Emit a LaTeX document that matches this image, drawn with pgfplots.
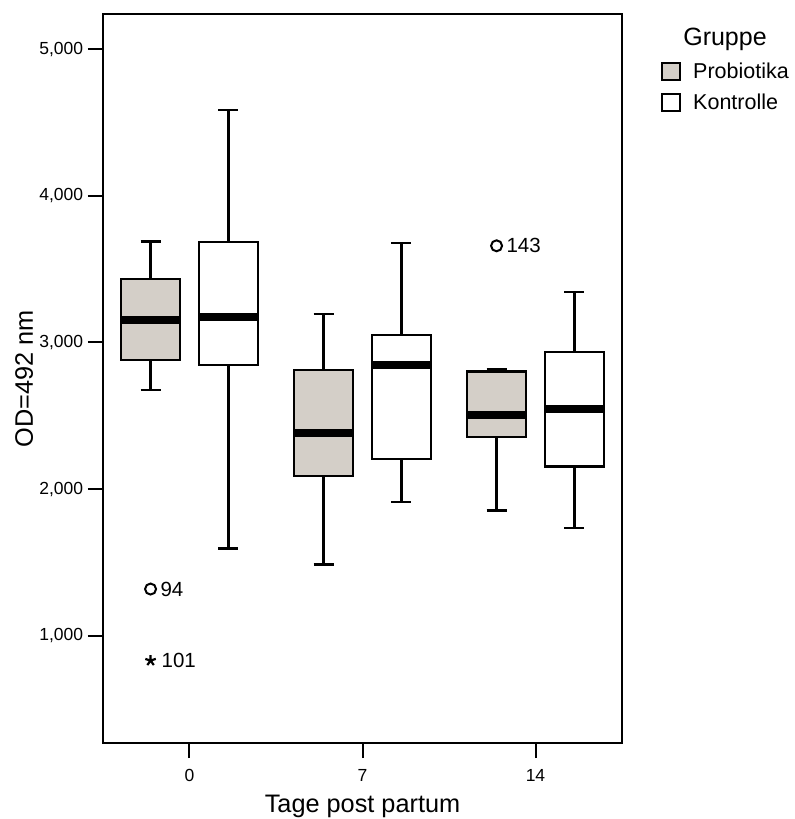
\documentclass[border=0pt]{standalone}
\usepackage{pgfplots}
\pgfplotsset{compat=1.18}
\usepackage{fontspec}
\setmainfont{Liberation Sans}
\definecolor{probgray}{RGB}{212,207,200}

\newcommand{\ticksize}{\fontsize{17.5bp}{21bp}\selectfont}
\newcommand{\labelsize}{\fontsize{25.3bp}{30bp}\selectfont}
\newcommand{\legsize}{\fontsize{21.5bp}{26bp}\selectfont}
\newcommand{\idsize}{\fontsize{20.5bp}{24bp}\selectfont}

\begin{document}
\begin{tikzpicture}
\begin{axis}[
  at={(0,0)}, anchor=south west,
  scale only axis, width=519bp, height=729bp,
  xmin=-0.5, xmax=2.5, ymin=268, ymax=5240,
  xtick={0,1,2}, xticklabels={0,7,14},
  ytick={1000,2000,3000,4000,5000},
  tick pos=left, tick align=outside, major tick length=15bp,
  axis line style={line width=2.5bp},
  major tick style={line width=2bp, black},
  /pgf/number format/.cd, fixed, 1000 sep={,}, assume math mode=true, /pgfplots/.cd,
  ticklabel style={font=\ticksize},
  xticklabel style={anchor=base, yshift=-23bp},
  yticklabel style={anchor=east, inner sep=0pt, xshift=-4.7bp},
  xlabel={Tage post partum},
  xlabel style={at={(axis description cs:0.5,-0.096)}, anchor=base, font=\labelsize},
  ylabel={OD=492 nm},
  ylabel style={at={(axis description cs:-0.1349,0.5)}, anchor=base, font=\labelsize},
  whisker/.style={black, line width=2.6bp},
  box/.style={draw=black, line width=2.1bp},
  median/.style={black, line width=8bp},
]
% ---- Whisker (untere bis obere Grenze) ----
\addplot[whisker] coordinates {(-0.225,2676) (-0.225,3688)};
\addplot[whisker] coordinates {(0.225,1593) (0.225,4585)};
\addplot[whisker] coordinates {(0.775,1484) (0.775,3193)};
\addplot[whisker] coordinates {(1.225,1911) (1.225,3677)};
\addplot[whisker] coordinates {(1.775,1854) (1.775,2820)};
\addplot[whisker] coordinates {(2.225,1734) (2.225,3345)};
% ---- Querstriche an den Whisker-Enden ----
\addplot[whisker] coordinates {(-0.283,2676) (-0.167,2676)};
\addplot[whisker] coordinates {(-0.283,3688) (-0.167,3688)};
\addplot[whisker] coordinates {(0.167,1593) (0.283,1593)};
\addplot[whisker] coordinates {(0.167,4585) (0.283,4585)};
\addplot[whisker] coordinates {(0.717,1484) (0.833,1484)};
\addplot[whisker] coordinates {(0.717,3193) (0.833,3193)};
\addplot[whisker] coordinates {(1.167,1911) (1.283,1911)};
\addplot[whisker] coordinates {(1.167,3677) (1.283,3677)};
\addplot[whisker] coordinates {(1.717,1854) (1.833,1854)};
\addplot[whisker] coordinates {(1.717,2820) (1.833,2820)};
\addplot[whisker] coordinates {(2.167,1734) (2.283,1734)};
\addplot[whisker] coordinates {(2.167,3345) (2.283,3345)};
% ---- Boxen (Quartile) ----
\addplot[box, fill=probgray] coordinates {(-0.3955,2881) (-0.0545,2881) (-0.0545,3431) (-0.3955,3431)} -- cycle;
\addplot[box, fill=white]    coordinates {(0.0545,2847) (0.3955,2847) (0.3955,3684) (0.0545,3684)} -- cycle;
\addplot[box, fill=probgray] coordinates {(0.6045,2091) (0.9455,2091) (0.9455,2809) (0.6045,2809)} -- cycle;
\addplot[box, fill=white]    coordinates {(1.0545,2203) (1.3955,2203) (1.3955,3052) (1.0545,3052)} -- cycle;
\addplot[box, fill=probgray] coordinates {(1.6045,2357) (1.9455,2357) (1.9455,2802) (1.6045,2802)} -- cycle;
\addplot[box, fill=white]    coordinates {(2.0545,2154) (2.3955,2154) (2.3955,2934) (2.0545,2934)} -- cycle;
% ---- Mediane ----
\addplot[median] coordinates {(-0.3955,3154) (-0.0545,3154)};
\addplot[median] coordinates {(0.0545,3172) (0.3955,3172)};
\addplot[median] coordinates {(0.6045,2382) (0.9455,2382)};
\addplot[median] coordinates {(1.0545,2845) (1.3955,2845)};
\addplot[median] coordinates {(1.6045,2506) (1.9455,2506)};
\addplot[median] coordinates {(2.0545,2549) (2.3955,2549)};
% ---- Ausreisser ----
\addplot[only marks, mark=o, mark size=5.5bp, mark options={line width=2bp, draw=black},
  point meta=explicit symbolic, nodes near coords,
  nodes near coords style={anchor=west, inner sep=0pt, xshift=9bp, font=\idsize, black}]
  coordinates {(-0.225,1318) [94] (1.775,3659) [143]};
% ---- Extremwert ----
\addplot[only marks, mark=star, mark size=5.5bp, mark options={line width=2.2bp, draw=black},
  point meta=explicit symbolic, nodes near coords,
  nodes near coords style={anchor=west, inner sep=0pt, xshift=10bp, font=\idsize, black}]
  coordinates {(-0.225,830) [101]};
\end{axis}
% ---- Legende ----
\node[anchor=base, inner sep=0pt, font=\fontsize{25bp}{30bp}\selectfont] at (622bp,697bp) {Gruppe};
\draw[fill=probgray, line width=1.8bp] (559bp,663bp) rectangle (577bp,680bp);
\node[anchor=base west, inner sep=0pt, font=\legsize] at (590bp,664bp) {Probiotika};
\draw[fill=white, line width=1.8bp] (559bp,632bp) rectangle (577bp,649bp);
\node[anchor=base west, inner sep=0pt, font=\legsize] at (590bp,633bp) {Kontrolle};
\pgfresetboundingbox
\useasboundingbox (-103bp,-76bp) rectangle (692bp,743bp);
\end{tikzpicture}
\end{document}
